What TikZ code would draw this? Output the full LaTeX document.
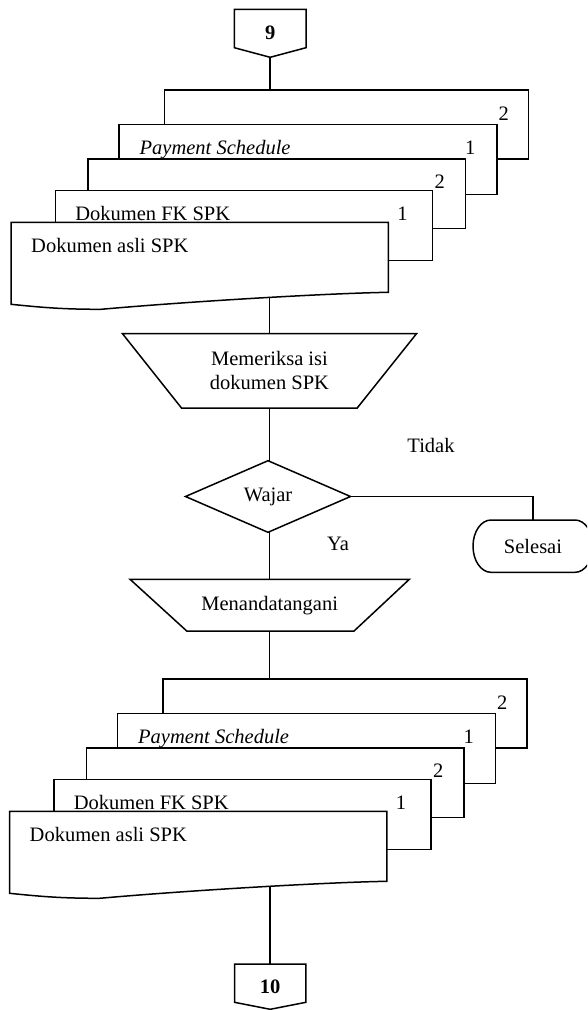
\documentclass[tikz,border=0pt]{standalone}
\usepackage{fontspec}
\setmainfont{Liberation Serif}
\usetikzlibrary{calc}
\pgfdeclarelayer{background}
\pgfsetlayers{background,main}

% A stack of five documents; #1 = shift, #2 = name prefix
\newcommand{\docstack}[2]{%
\begin{scope}[shift={(#1)}]
  \node[sheet, minimum width=364.3, minimum height=69] (#2a) at (164.4,90) {};
  \node[num] (#2a2) at (503.7,120) {2};
  \node[sheet, minimum width=378, minimum height=70] (#2b) at (119,124.3) {};
  \node[txt] (#2bt) at (139.7,154) {\itshape Payment Schedule};
  \node[num] (#2b1) at (470.3,154) {1};
  \node[sheet, minimum width=377.5, minimum height=69.7] (#2c) at (88.2,159) {};
  \node[num] (#2c2) at (439.7,188.3) {2};
  \node[sheet, minimum width=377.2, minimum height=70] (#2d) at (55.5,190.7) {};
  \node[txt] (#2dt) at (75.3,220) {Dokumen FK SPK};
  \node[num] (#2d1) at (402.6,220) {1};
  \node[frame, anchor=north west, minimum width=377.3, minimum height=70] (#2e) at (11,222.3) {};
  \draw[fill=white] (#2e.north west) -- (#2e.north east) -- (#2e.south east)
    .. controls +(-60,1) and +(90,-8) .. ($(#2e.south west)+(90,17)$)
    .. controls +(-40,0) and +(30,3) .. ($(#2e.south west)+(0,12)$) -- cycle;
  \node[txt] (#2et) at (31.2,252.3) {Dokumen asli SPK};
\end{scope}}

\begin{document}
\begin{tikzpicture}[x=1pt, y=-1pt, line width=1.5pt,
  every node/.style={font=\fontsize{20.5}{24}\selectfont, inner sep=0pt, outer sep=0pt},
  sheet/.style={draw, fill=white, anchor=north west},
  frame/.style={draw=none},
  pagelink/.style={frame, font=\fontsize{20.5}{24}\selectfont\bfseries},
  txt/.style={anchor=base west},
  num/.style={anchor=base},
  link/.style={draw, line width=1.5pt}]

\path[use as bounding box, clip] (0,0) rectangle (587,1010);

% off-page connector 9
\node[pagelink, minimum width=71.7, minimum height=48] (c9) at (270.15,33.3) {9};
\draw (c9.north west) -- (c9.north east) -- ($(c9.south east)+(0,-9.6)$)
  -- (c9.south) -- ($(c9.south west)+(0,-9.6)$) -- cycle;

% first document stack
\docstack{0,0}{s1}

% checking step (manual operation)
\node[frame, minimum width=294, minimum height=74.3, align=center] (t1) at (269.5,370.85) {Memeriksa isi\\dokumen SPK};
\draw (t1.north west) -- (t1.north east) -- ($(t1.south east)+(-59.3,0)$)
  -- ($(t1.south west)+(59,0)$) -- cycle;

% decision
\node[frame, minimum width=165, minimum height=71.6] (dia) at (268,496.5) {Wajar};
\draw (dia.north) -- (dia.east) -- (dia.south) -- (dia.west) -- cycle;

% terminator
\node[frame, minimum width=120, minimum height=52.3] (sel) at (533,546.15) {Selesai};
\draw ($(sel.north west)+(18,0)$) -- ($(sel.north east)+(-18,0)$)
  arc[start angle=-90, end angle=90, x radius=18, y radius=26.15]
  -- ($(sel.south west)+(18,0)$)
  arc[start angle=90, end angle=270, x radius=18, y radius=26.15] -- cycle;

\node[num] (tidak) at (431,452.3) {Tidak};
\node[num] (ya) at (338,550) {Ya};

% signing step (manual operation)
\node[frame, minimum width=279.3, minimum height=51.7] (t2) at (269.7,605.15) {Menandatangani};
\draw (t2.north west) -- (t2.north east) -- ($(t2.south east)+(-55.3,0)$)
  -- ($(t2.south west)+(56.7,0)$) -- cycle;

% second document stack
\docstack{-1.5,589}{s2}

% off-page connector 10
\node[pagelink, minimum width=71.4, minimum height=45.3] (c10) at (270.2,986.65) {10};
\draw (c10.north west) -- (c10.north east) -- ($(c10.south east)+(0,-7)$)
  -- (c10.south) -- ($(c10.south west)+(0,-7)$) -- cycle;

% flow lines
\begin{pgfonlayer}{background}
  \path[link] (c9.south) -- (c9.south |- s1a.north);
  \path[link] (t1.north |- s1e.south) -- (t1.north);
  \path[link] (t1.south) -- (t1.south |- dia.north);
  \path[link] (dia.east) -| (sel.north);
  \path[link] (t2.north |- dia.south) -- (t2.north);
  \path[link] (t2.south) -- (t2.south |- s2a.north);
  \path[link] (c10.north |- s2e.south) -- (c10.north);
\end{pgfonlayer}
\end{tikzpicture}
\end{document}
